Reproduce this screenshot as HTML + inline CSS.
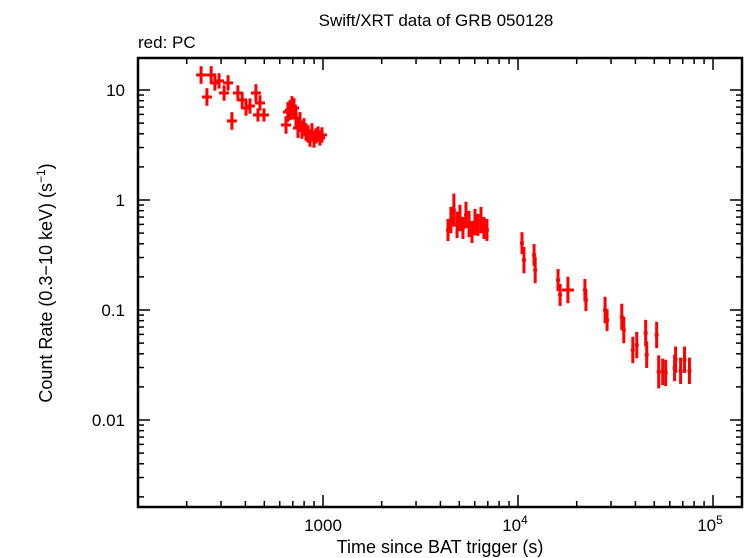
<!DOCTYPE html>
<html><head><meta charset="utf-8"><style>
html,body{margin:0;padding:0;background:#fff;}
svg{display:block;font-family:"Liberation Sans",sans-serif;}
</style></head><body>
<svg id="chart" width="746" height="558" viewBox="0 0 746 558" xmlns="http://www.w3.org/2000/svg">
<text x="436" y="26" font-size="17" text-anchor="middle">Swift/XRT data of GRB 050128</text>
<text x="138" y="48" font-size="17">red: PC</text>
<text x="440" y="553" font-size="18" text-anchor="middle">Time since BAT trigger (s)</text>
<text transform="translate(52,283) rotate(-90)" font-size="18" text-anchor="middle">Count Rate (0.3−10 keV) (s<tspan font-size="12" dy="-7">−1</tspan><tspan dy="7">)</tspan></text>
<g id="ticks"></g>
<g id="marks"></g>
<rect x="138" y="58" width="604" height="449" fill="none" stroke="#000" stroke-width="2.5"/>
</svg>
<script>
const times=[237,254,267,279,293,311,326,341,366,385,403,422,453,464,475,498,
646,661,677,693,710,727,744,762,780,799,818,838,858,878,899,921,943,965,988,
4375,4530,4690,4870,5040,5220,5410,5610,5810,6020,6230,6460,6690,6930,
10480,10730,12090,12250,16050,16440,18030,22040,22300,27960,28630,34060,34880,38800,40650,45170,45710,51420,52660,55190,57190,63540,64290,68220,71460,75730];
const rates=[13.7,8.64,13.7,11.6,12.1,9.39,11.6,5.23,9.39,8.11,6.86,7.15,9.39,5.93,7.62,5.93,
4.81,6.31,6.58,7.15,6.86,5.56,4.51,5.12,4.33,4.61,4.15,3.98,3.66,4.15,3.51,3.82,3.98,3.66,3.90,
0.534,0.657,0.81,0.594,0.687,0.557,0.731,0.605,0.512,0.63,0.594,0.657,0.557,0.534,
0.405,0.284,0.316,0.231,0.187,0.137,0.152,0.152,0.123,0.1,0.081,0.0865,0.0658,0.0433,0.048,0.0618,0.0392,0.0593,0.0274,0.0274,0.0268,0.0297,0.0353,0.028,0.0353,0.028];
const errDex=[0.08,0.08,0.08,0.07,0.07,0.07,0.07,0.08,0.07,0.07,0.07,0.07,0.08,0.06,0.07,0.06,
0.08,0.09,0.09,0.09,0.09,0.09,0.09,0.09,0.08,0.08,0.08,0.08,0.08,0.08,0.07,0.07,0.07,0.07,0.07,
0.1,0.12,0.15,0.12,0.12,0.1,0.12,0.12,0.1,0.12,0.1,0.12,0.1,0.1,
0.1,0.12,0.1,0.12,0.1,0.1,0.12,0.1,0.1,0.12,0.1,0.12,0.12,0.12,0.12,0.12,0.12,0.12,0.15,0.12,0.12,0.12,0.12,0.12,0.12,0.12];
const xTickVals=[1000,10000,100000];
const xTickLabels=["1000","10","10"];
const xTickExp=["","4","5"];
const yTickVals=[10,1,0.1,0.01];
const yTickLabels=["10","1","0.1","0.01"];

const X0=323,XPD=195,Y0=90,YPD=110,L=138,R=742,T=58,B=507;
function xs(t){return X0+(Math.log10(t)-3)*XPD;}
function ys(r){return Y0-(Math.log10(r)-1)*YPD;}
const NS="http://www.w3.org/2000/svg";
const tg=document.getElementById('ticks'),mg=document.getElementById('marks');
function line(g,x1,y1,x2,y2,c,w){const l=document.createElementNS(NS,'line');l.setAttribute('x1',x1);l.setAttribute('y1',y1);l.setAttribute('x2',x2);l.setAttribute('y2',y2);l.setAttribute('stroke',c);l.setAttribute('stroke-width',w);g.appendChild(l);return l;}
// x ticks
for(let d=2;d<=5;d++){for(let m=1;m<10;m++){const v=m*Math.pow(10,d);const x=xs(v);if(x<L||x>R)continue;const len=m==1?12:6;
const a=line(tg,x,B,x,B-len,'#000',1.5);
const b=line(tg,x,T,x,T+len,'#000',1.5);}}
xTickVals.forEach((v,i)=>{const t=document.createElementNS(NS,'text');t.setAttribute('x',xs(v)+(xTickExp[i]?-3:0));t.setAttribute('y',531);t.setAttribute('font-size','17');t.setAttribute('text-anchor','middle');t.textContent=xTickLabels[i];
if(xTickExp[i]){const s=document.createElementNS(NS,'tspan');s.setAttribute('font-size','12');s.setAttribute('dy','-7');s.textContent=xTickExp[i];t.appendChild(s);}


tg.appendChild(t);});
// y ticks
for(let d=-3;d<=1;d++){for(let m=1;m<10;m++){const v=m*Math.pow(10,d);const y=ys(v);if(y<T||y>B)continue;const len=m==1?12:6;
const a=line(tg,L,y,L+len,y,'#000',1.5);
const b=line(tg,R,y,R-len,y,'#000',1.5);}}
yTickVals.forEach((v,i)=>{const t=document.createElementNS(NS,'text');t.setAttribute('x',125);t.setAttribute('y',ys(v)+6);t.setAttribute('font-size','17');t.setAttribute('text-anchor','end');t.textContent=yTickLabels[i];


tg.appendChild(t);});
// data
times.forEach((t,i)=>{const r=rates[i],e=errDex[i];const x=xs(t),y=ys(r);
const g=document.createElementNS(NS,'g');


line(g,x,ys(r*Math.pow(10,e)),x,ys(r/Math.pow(10,e)),'#f00',3);
const hw=t<1000?5:(t<8000?2:(t>17000&&t<19000?6:2));
line(g,x-hw,y,x+hw,y,'#f00',3);
mg.appendChild(g);});
</script>
</body></html>
